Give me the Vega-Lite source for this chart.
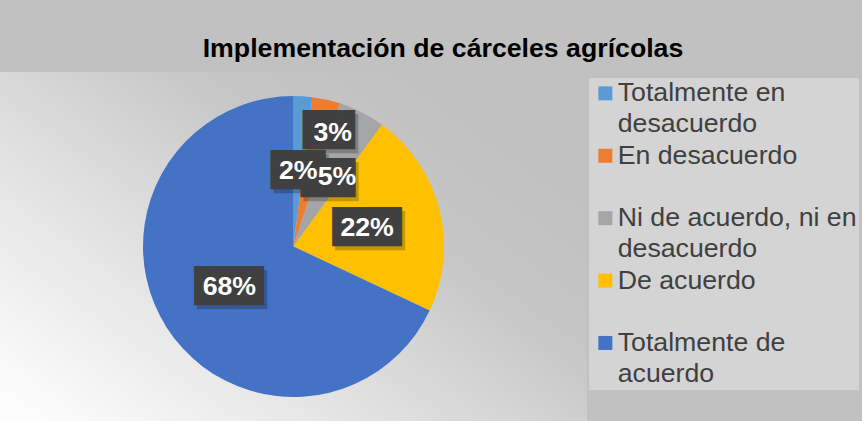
{
  "$schema": "https://vega.github.io/schema/vega-lite/v6.json",
  "width": 587,
  "height": 349,
  "autosize": "none",
  "padding": {"left": 0, "top": 72, "right": 275, "bottom": 0},
  "background": "#c1c1c1",
  "title": {
    "text": "Implementación de cárceles agrícolas",
    "font": "Liberation Sans",
    "fontSize": 26.7,
    "fontWeight": "bold",
    "color": "#000000",
    "anchor": "middle",
    "frame": "group",
    "baseline": "alphabetic",
    "offset": 15,
    "dx": 149.5,
    "dy": 27
  },
  "datasets": {
    "respuestas": [
      {"cat": "Totalmente en desacuerdo", "pct": 0.02},
      {"cat": "En desacuerdo", "pct": 0.03},
      {"cat": "Ni de acuerdo, ni en desacuerdo", "pct": 0.05},
      {"cat": "De acuerdo", "pct": 0.22},
      {"cat": "Totalmente de acuerdo", "pct": 0.68}
    ],
    "fondo": [{"nombre": "fondo"}]
  },
  "data": {"name": "respuestas"},
  "layer": [
    {
      "data": {"name": "fondo"},
      "mark": {
        "type": "rect",
        "color": {
          "gradient": "linear",
          "x1": 0, "y1": 0.9, "x2": 0.85, "y2": 0.2,
          "stops": [
            {"offset": 0, "color": "#fcfcfc"},
            {"offset": 0.3, "color": "#e8e8e8"},
            {"offset": 0.55, "color": "#d6d6d6"},
            {"offset": 0.75, "color": "#c6c6c6"},
            {"offset": 1, "color": "#c1c1c1"}
          ]
        }
      },
      "encoding": {
        "x": {"value": 0},
        "x2": {"value": "width"},
        "y": {"value": 0},
        "y2": {"value": "height"}
      }
    },
    {
      "mark": {"type": "arc", "outerRadius": 150.5},
      "encoding": {
        "theta": {"field": "pct", "type": "quantitative", "stack": true},
        "order": {"field": "pct", "type": "quantitative", "sort": "ascending"},
        "color": {
          "field": "cat",
          "type": "nominal",
          "scale": {
            "domain": ["Totalmente en desacuerdo", "En desacuerdo", "Ni de acuerdo, ni en desacuerdo", "De acuerdo", "Totalmente de acuerdo"],
            "range": ["#5B9BD5", "#ED7D31", "#A5A5A5", "#FFC000", "#4472C4"]
          },
          "legend": {
            "orient": "none",
            "legendX": 589,
            "legendY": 6,
            "title": null,
            "fillColor": "#d4d4d4",
            "padding": 2,
            "symbolType": "square",
            "symbolSize": 196,
            "symbolStrokeWidth": 0,
            "symbolOffset": 1,
            "labelOffset": -1,
            "labelFont": "Liberation Sans",
            "labelFontSize": 26.7,
            "labelColor": "#404040",
            "labelLimit": 400,
            "rowPadding": 3.4,
            "labelExpr": "datum.label == 'Totalmente en desacuerdo' ? ['Totalmente en', 'desacuerdo'] : datum.label == 'Ni de acuerdo, ni en desacuerdo' ? ['Ni de acuerdo, ni en', 'desacuerdo'] : datum.label == 'Totalmente de acuerdo' ? ['Totalmente de', 'acuerdo'] : [datum.label, '']",
            "encode": {
              "labels": {"update": {"lineHeight": {"value": 31}}}
            }
          }
        }
      }
    },
    {
      "mark": {"type": "text", "font": "DejaVu Sans Mono", "fontSize": 33, "color": "#000000", "opacity": 0.22, "radius": 76, "dx": 8, "dy": 4, "baseline": "middle"},
      "encoding": {
        "theta": {"field": "pct", "type": "quantitative", "stack": true},
        "order": {"field": "pct", "type": "quantitative", "sort": "ascending"},
        "detail": {"field": "cat"},
        "text": {"condition": {"test": "datum.pct >= 0.1", "value": "███▌"}, "value": ""}
      }
    },
    {
      "mark": {"type": "text", "font": "DejaVu Sans Mono", "fontSize": 33, "color": "#000000", "opacity": 0.22, "radius": 76, "dx": 5.5, "dy": 4, "baseline": "middle"},
      "encoding": {
        "theta": {"field": "pct", "type": "quantitative", "stack": true},
        "order": {"field": "pct", "type": "quantitative", "sort": "ascending"},
        "detail": {"field": "cat"},
        "text": {"condition": {"test": "datum.cat === 'Totalmente en desacuerdo' || datum.cat === 'Ni de acuerdo, ni en desacuerdo'", "value": "██▊"}, "value": ""}
      }
    },
    {
      "mark": {"type": "text", "font": "DejaVu Sans Mono", "fontSize": 33, "color": "#000000", "opacity": 0.22, "radius": 120, "dx": 16, "dy": 6, "baseline": "middle"},
      "encoding": {
        "theta": {"field": "pct", "type": "quantitative", "stack": true},
        "order": {"field": "pct", "type": "quantitative", "sort": "ascending"},
        "detail": {"field": "cat"},
        "text": {"condition": {"test": "datum.cat === 'En desacuerdo'", "value": "██▋"}, "value": ""}
      }
    },
    {
      "mark": {"type": "text", "font": "DejaVu Sans Mono", "fontSize": 33, "color": "#404040", "radius": 76, "dx": 5, "baseline": "middle"},
      "encoding": {
        "theta": {"field": "pct", "type": "quantitative", "stack": true},
        "order": {"field": "pct", "type": "quantitative", "sort": "ascending"},
        "detail": {"field": "cat"},
        "text": {"condition": {"test": "datum.pct >= 0.1", "value": "███▌"}, "value": ""}
      }
    },
    {
      "mark": {"type": "text", "font": "DejaVu Sans Mono", "fontSize": 33, "color": "#404040", "radius": 76, "dx": 2.5, "baseline": "middle"},
      "encoding": {
        "theta": {"field": "pct", "type": "quantitative", "stack": true},
        "order": {"field": "pct", "type": "quantitative", "sort": "ascending"},
        "detail": {"field": "cat"},
        "text": {"condition": {"test": "datum.cat === 'Totalmente en desacuerdo' || datum.cat === 'Ni de acuerdo, ni en desacuerdo'", "value": "██▊"}, "value": ""}
      }
    },
    {
      "mark": {"type": "text", "font": "DejaVu Sans Mono", "fontSize": 33, "color": "#404040", "radius": 120, "dx": 13, "dy": 2, "baseline": "middle"},
      "encoding": {
        "theta": {"field": "pct", "type": "quantitative", "stack": true},
        "order": {"field": "pct", "type": "quantitative", "sort": "ascending"},
        "detail": {"field": "cat"},
        "text": {"condition": {"test": "datum.cat === 'En desacuerdo'", "value": "██▋"}, "value": ""}
      }
    },
    {
      "mark": {"type": "text", "font": "Liberation Sans", "fontSize": 26.7, "fontWeight": "bold", "color": "#ffffff", "radius": 76, "baseline": "middle"},
      "encoding": {
        "theta": {"field": "pct", "type": "quantitative", "stack": true},
        "order": {"field": "pct", "type": "quantitative", "sort": "ascending"},
        "detail": {"field": "cat"},
        "text": {"condition": {"test": "datum.cat === 'En desacuerdo' || datum.cat === 'Ni de acuerdo, ni en desacuerdo'", "value": ""}, "field": "pct", "type": "quantitative", "format": ".0%"}
      }
    },
    {
      "mark": {"type": "text", "font": "Liberation Sans", "fontSize": 26.7, "fontWeight": "bold", "color": "#ffffff", "radius": 76, "dx": 9, "dy": -2, "baseline": "middle"},
      "encoding": {
        "theta": {"field": "pct", "type": "quantitative", "stack": true},
        "order": {"field": "pct", "type": "quantitative", "sort": "ascending"},
        "detail": {"field": "cat"},
        "text": {"condition": {"test": "datum.cat !== 'Ni de acuerdo, ni en desacuerdo'", "value": ""}, "field": "pct", "type": "quantitative", "format": ".0%"}
      }
    },
    {
      "mark": {"type": "text", "font": "Liberation Sans", "fontSize": 26.7, "fontWeight": "bold", "color": "#ffffff", "radius": 120, "dx": 13, "dy": 4, "baseline": "middle"},
      "encoding": {
        "theta": {"field": "pct", "type": "quantitative", "stack": true},
        "order": {"field": "pct", "type": "quantitative", "sort": "ascending"},
        "detail": {"field": "cat"},
        "text": {"condition": {"test": "datum.cat !== 'En desacuerdo'", "value": ""}, "field": "pct", "type": "quantitative", "format": ".0%"}
      }
    }
  ],
  "config": {
    "view": {"stroke": null}
  }
}
